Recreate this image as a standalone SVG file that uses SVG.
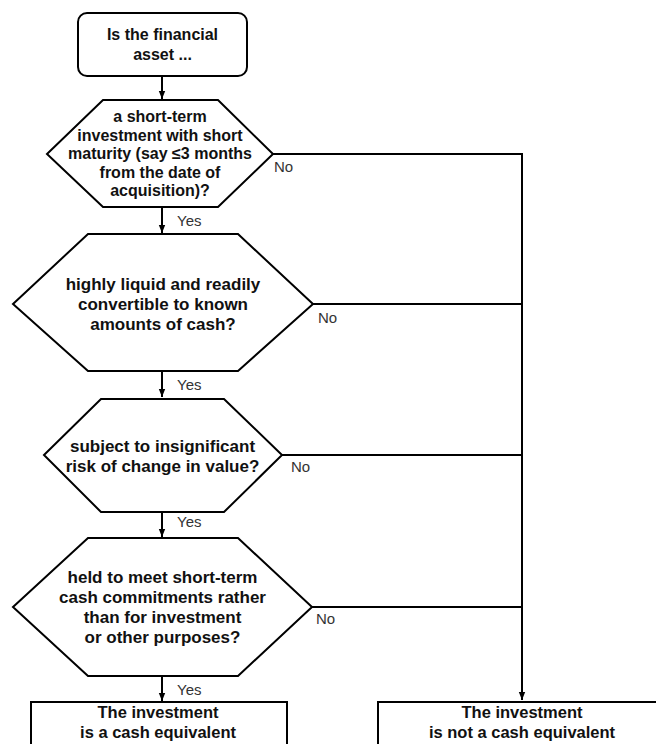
<svg xmlns="http://www.w3.org/2000/svg" width="656" height="744" viewBox="0 0 656 744">
<defs>
<marker id="ah" markerUnits="userSpaceOnUse" markerWidth="8" markerHeight="10" refX="4" refY="9" orient="auto-start-reverse" viewBox="0 0 8 10">
<path d="M0,0 L8,0 L4,10 Z" fill="#000" transform="rotate(-90 4 5)"/>
</marker>
<marker id="a" markerUnits="userSpaceOnUse" markerWidth="8" markerHeight="10" refX="10" refY="4" orient="auto" viewBox="0 0 10 8">
<path d="M0,0 L10,4 L0,8 Z" fill="#000"/>
</marker>
<style>
.s{fill:#fff;stroke:#000;stroke-width:2}
.t{font-family:"Liberation Sans",Arial,sans-serif;font-weight:bold;font-size:16px;fill:#111;text-anchor:middle}
.t17{font-size:17px}
.l{font-family:"Liberation Sans",Arial,sans-serif;font-size:15px;fill:#333}
.c{fill:none;stroke:#000;stroke-width:2}
</style>
</defs>
<rect width="656" height="744" fill="#fff"/>
<g id="connectors">
<line class="c" x1="162" y1="77" x2="162" y2="99" marker-end="url(#a)"/>
<line class="c" x1="162" y1="207" x2="162" y2="233" marker-end="url(#a)"/>
<line class="c" x1="162" y1="371" x2="162" y2="397" marker-end="url(#a)"/>
<line class="c" x1="162" y1="512" x2="162" y2="537" marker-end="url(#a)"/>
<line class="c" x1="162" y1="676" x2="162" y2="701" marker-end="url(#a)"/>
<polyline class="c" points="273,154 522,154 522,700" marker-end="url(#a)"/>
<line class="c" x1="313" y1="304" x2="522" y2="304"/>
<line class="c" x1="282" y1="455" x2="522" y2="455"/>
<line class="c" x1="312" y1="607" x2="522" y2="607"/>
<text class="l" x="177" y="226">Yes</text>
<text class="l" x="177" y="390">Yes</text>
<text class="l" x="177" y="527">Yes</text>
<text class="l" x="177" y="695">Yes</text>
<text class="l" x="274" y="172">No</text>
<text class="l" x="318" y="323">No</text>
<text class="l" x="291" y="472">No</text>
<text class="l" x="316" y="624">No</text>
</g>
<g id="start">
<rect class="s" x="78" y="13" width="169" height="63" rx="9"/>
<text class="t" x="162.5" y="40">Is the financial</text>
<text class="t" x="162.5" y="60">asset ...</text>
</g>
<g id="q1">
<polygon class="s" points="47,154 103,100 218,100 273,154 218,207 103,207"/>
<text class="t" x="160" y="122">a short-term</text>
<text class="t" x="160" y="140.5">investment with short</text>
<text class="t" x="160" y="159">maturity (say ≤3 months</text>
<text class="t" x="160" y="177.5">from the date of</text>
<text class="t" x="160" y="196">acquisition)?</text>
</g>
<g id="q2">
<polygon class="s" points="13,304 88,234 238,234 313,304 238,371 88,371"/>
<text class="t t17" x="163" y="290">highly liquid and readily</text>
<text class="t t17" x="163" y="310">convertible to known</text>
<text class="t t17" x="163" y="330">amounts of cash?</text>
</g>
<g id="q3">
<polygon class="s" points="44,455 101,399 224,399 282,455 224,512 101,512"/>
<text class="t t17" x="162.5" y="452">subject to insignificant</text>
<text class="t t17" x="162.5" y="472">risk of change in value?</text>
</g>
<g id="q4">
<polygon class="s" points="13,607 88,538 238,538 312,607 238,676 88,676"/>
<text class="t t17" x="162.5" y="583">held to meet short-term</text>
<text class="t t17" x="162.5" y="603">cash commitments rather</text>
<text class="t t17" x="162.5" y="623">than for investment</text>
<text class="t t17" x="162.5" y="643">or other purposes?</text>
</g>
<g id="yes-result">
<rect class="s" x="31" y="702" width="256" height="60"/>
<text class="t" x="158" y="718" style="font-size:16.5px">The investment</text>
<text class="t" x="158" y="738" style="font-size:16.5px">is a cash equivalent</text>
</g>
<g id="no-result">
<rect class="s" x="378" y="702" width="290" height="60"/>
<text class="t" x="522" y="718" style="font-size:16.5px">The investment</text>
<text class="t" x="522" y="738" style="font-size:16.5px">is not a cash equivalent</text>
</g>
</svg>
